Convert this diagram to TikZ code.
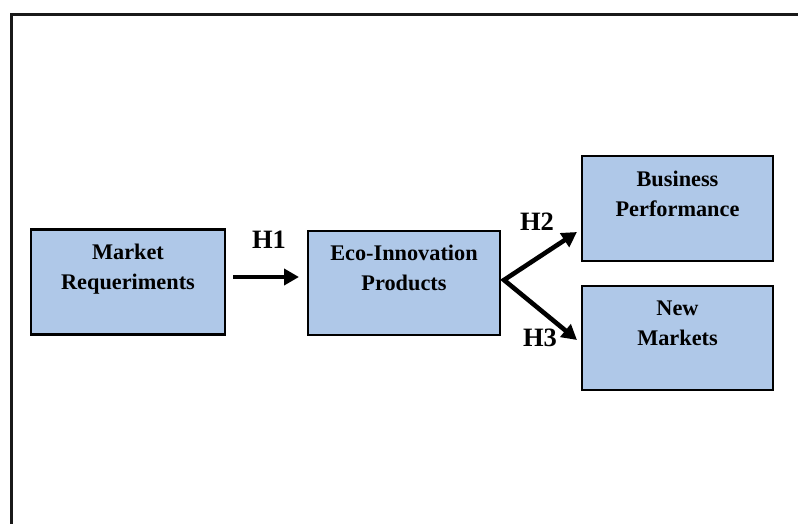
\documentclass[tikz,border=0pt]{standalone}
\usepackage{fontspec}
\setmainfont{Liberation Serif}
\usetikzlibrary{arrows.meta}
\definecolor{boxblue}{RGB}{175,200,232}
\tikzset{
  box/.style={draw=black, line width=2.4pt, fill=boxblue, inner sep=0pt,
    align=center, font=\fontsize{22.3}{30}\selectfont\bfseries},
  hlabel/.style={font=\fontsize{26.5}{30}\selectfont\bfseries, inner sep=0pt},
  arr/.style={line width=4.6pt, -{Triangle[length=15pt,width=16pt]}},
  twoarr/.style={line width=4.6pt, line join=miter, {Triangle[length=15pt,width=16pt]}-{Triangle[length=15pt,width=16pt]}},
  frame/.style={line width=2.4pt, draw=black!90}
}
\begin{document}
\begin{tikzpicture}[x=1pt,y=-1pt]
\useasboundingbox (0,0) rectangle (798,524);
\coordinate (ftl) at (11.5,14.5);
\coordinate (ftr) at (799,14.5);
\coordinate (fbl) at (11.5,525);
\draw[frame] (ftr) -- (ftl) -- (fbl);

\node[box, minimum width=194pt, minimum height=105pt] (market) at (128,282) {Market\\Requeriments\\\mbox{}};
\node[box, minimum width=192pt, minimum height=104pt] (eco) at (404,283) {Eco-Innovation\\Products\\\mbox{}};
\node[box, minimum width=191pt, minimum height=105pt] (bp) at (677.5,208.5) {Business\\Performance\\\mbox{}};
\node[box, minimum width=191pt, minimum height=104pt] (nm) at (677.5,338) {New\\Markets\\\mbox{}};

\coordinate (a1s) at (233,277);
\coordinate (a1e) at (299,277);
\draw[arr] (a1s) -- (a1e);
\node[hlabel] (h1) at (269,240) {H1};

\coordinate (v) at (504,280);
\coordinate (a2e) at (577,232);
\coordinate (a3e) at (577,340);
\draw[twoarr] (a2e) -- (v) -- (a3e);
\node[hlabel] (h2) at (537,222) {H2};
\node[hlabel] (h3) at (540,338) {H3};
\end{tikzpicture}
\end{document}
